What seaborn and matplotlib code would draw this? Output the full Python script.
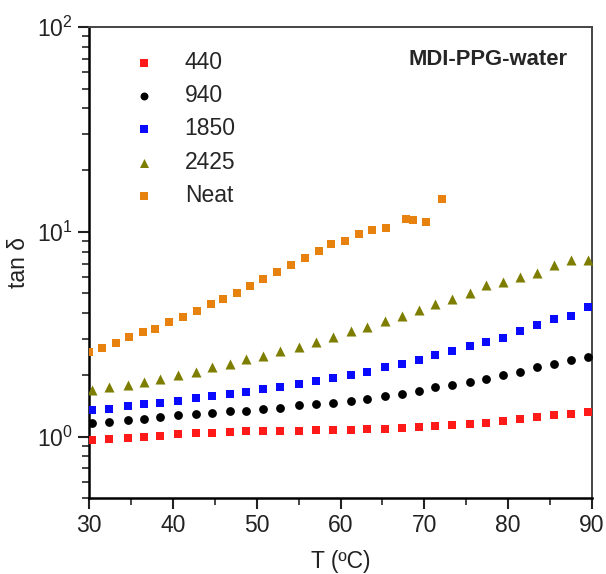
import matplotlib
matplotlib.use("Agg")
import matplotlib.pyplot as plt
import seaborn as sns
import pandas as pd
from matplotlib.ticker import MultipleLocator, LogLocator

# temperature grid shared by the four foam series
temp = [30.4, 32.4, 34.6, 36.6, 38.5, 40.6, 42.7, 44.7, 46.8, 48.7,
        50.7, 52.8, 55.1, 57.1, 59.1, 61.2, 63.2, 65.3, 67.3, 69.3,
        71.3, 73.3, 75.4, 77.4, 79.4, 81.4, 83.4, 85.5, 87.5, 89.5]

tan_440 = [0.963, 0.975, 0.98, 0.99, 1.01, 1.03, 1.04, 1.045, 1.05, 1.06,
           1.06, 1.065, 1.07, 1.075, 1.078, 1.08, 1.085, 1.09, 1.10, 1.116,
           1.13, 1.145, 1.15, 1.17, 1.19, 1.22, 1.24, 1.27, 1.29, 1.32]
tan_940 = [1.163, 1.18, 1.20, 1.22, 1.245, 1.27, 1.29, 1.30, 1.33, 1.34,
           1.36, 1.38, 1.42, 1.44, 1.46, 1.50, 1.53, 1.58, 1.62, 1.67,
           1.74, 1.79, 1.85, 1.92, 2.0, 2.07, 2.19, 2.26, 2.37, 2.44]
tan_1850 = [1.35, 1.37, 1.41, 1.44, 1.46, 1.50, 1.54, 1.58, 1.61, 1.66,
            1.71, 1.75, 1.81, 1.86, 1.93, 2.0, 2.07, 2.18, 2.26, 2.37,
            2.50, 2.63, 2.77, 2.91, 3.03, 3.27, 3.50, 3.73, 3.90, 4.29]
tan_2425 = [1.69, 1.74, 1.79, 1.85, 1.91, 1.99, 2.07, 2.18, 2.26, 2.38,
            2.48, 2.61, 2.74, 2.89, 3.07, 3.27, 3.44, 3.66, 3.87, 4.13,
            4.46, 4.68, 5.04, 5.48, 5.70, 6.02, 6.27, 6.88, 7.25, 7.25]

temp_neat = [30.0, 31.6, 33.2, 34.8, 36.4, 37.9, 39.5, 41.2, 42.9, 44.5,
             46.0, 47.6, 49.2, 50.8, 52.4, 54.1, 55.7, 57.4, 58.9, 60.5,
             62.2, 63.8, 65.4, 67.8, 68.6, 70.2, 72.1]
tan_neat = [2.59, 2.71, 2.87, 3.05, 3.23, 3.37, 3.61, 3.84, 4.11, 4.42,
            4.72, 5.0, 5.43, 5.88, 6.33, 6.86, 7.41, 8.02, 8.68, 8.97,
            9.71, 10.2, 10.46, 11.6, 11.45, 11.2, 14.5]

labels = ["440", "940", "1850", "2425", "Neat"]
colors = ["#ff1a1a", "#000000", "#0a0aff", "#7d7d00", "#e8820f"]
markers = ["s", "o", "s", "^", "s"]
sizes = [36, 40, 36, 52, 36]

sns.set_style("ticks")
plt.rcParams["font.family"] = ["Liberation Sans", "DejaVu Sans"]

series = [(temp, tan_440), (temp, tan_940), (temp, tan_1850),
          (temp, tan_2425), (temp_neat, tan_neat)]

fig, ax = plt.subplots(figsize=(6.06, 5.74), dpi=100)
fig.subplots_adjust(left=0.147, right=0.977, top=0.953, bottom=0.132)

for (xs, ys), lab, col, mk, sz in zip(series, labels, colors, markers, sizes):
    df = pd.DataFrame({"T": xs, "tan": ys})
    sns.scatterplot(data=df, x="T", y="tan", ax=ax, color=col, marker=mk,
                    s=sz, linewidth=0, label=lab, zorder=3)

ax.set_yscale("log")
ax.set_xlim(30, 90)
ax.set_ylim(0.5, 100)
ax.xaxis.set_major_locator(MultipleLocator(10))
ax.xaxis.set_minor_locator(MultipleLocator(5))
ax.yaxis.set_major_locator(LogLocator(base=10))
ax.yaxis.set_minor_locator(LogLocator(base=10, subs=range(2, 10)))

ax.tick_params(axis="both", which="major", direction="out", length=8,
               width=1.5, labelsize=16.5, colors="#222222")
ax.tick_params(axis="both", which="minor", direction="out", length=5,
               width=1.2)
ax.tick_params(top=False, right=False, which="both")

for side in ["left", "bottom"]:
    ax.spines[side].set_linewidth(1.8)
    ax.spines[side].set_color("black")
for side in ["top", "right"]:
    ax.spines[side].set_visible(True)
    ax.spines[side].set_linewidth(1.4)
    ax.spines[side].set_color("#444444")

ax.set_xlabel("T (ºC)", fontsize=16.5, color="#222222", labelpad=9)
ax.set_ylabel("tan δ", fontsize=16.5, color="#222222", labelpad=5)

ax.legend(loc="upper left", bbox_to_anchor=(0.069, 0.969), frameon=False,
          fontsize=16.5, handlelength=1.0, handletextpad=1.26,
          labelspacing=0.45, borderaxespad=0, markerscale=0.9)

ax.text(0.794, 0.930, "MDI-PPG-water", transform=ax.transAxes,
        ha="center", va="center", fontsize=15.8, fontweight="bold")

fig.savefig("out.png", dpi=100)
